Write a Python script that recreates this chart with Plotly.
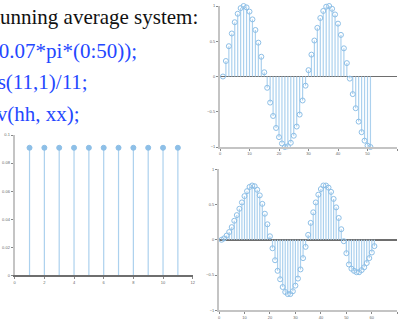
import plotly.graph_objects as go

W, H = 399, 321

# ---------------- data ----------------
text_lines = ["Running average system:",
              "xx = sin(0.07*pi*(0:50));",
              "hh = ones(11,1)/11;",
              "yy = conv(hh, xx);"]

hh_n = list(range(1, 12))
hh_vals = [0.0909] * 11

xx_n = list(range(1, 52))
xx_vals = [0.00, 0.22, 0.43, 0.61, 0.77, 0.89, 0.97, 1.00, 0.98, 0.92,
           0.81, 0.66, 0.48, 0.28, 0.06, -0.16, -0.37, -0.56, -0.73, -0.86,
           -0.95, -1.00, -0.99, -0.94, -0.84, -0.71, -0.54, -0.34, -0.13, 0.09,
           0.31, 0.51, 0.69, 0.83, 0.93, 0.99, 1.00, 0.96, 0.88, 0.75,
           0.59, 0.40, 0.19, -0.03, -0.25, -0.45, -0.64, -0.79, -0.91, -0.98,
           -1.00]

yy_n = list(range(1, 62))
yy_vals = [0.00, 0.02, 0.06, 0.11, 0.18, 0.27, 0.35, 0.44, 0.53, 0.62,
           0.69, 0.75, 0.77, 0.76, 0.71, 0.63, 0.51, 0.37, 0.22, 0.05,
           -0.12, -0.29, -0.44, -0.56, -0.67, -0.74, -0.77, -0.77, -0.73, -0.65,
           -0.55, -0.42, -0.26, -0.10, 0.07, 0.24, 0.39, 0.53, 0.64, 0.72,
           0.77, 0.77, 0.74, 0.68, 0.58, 0.46, 0.31, 0.15, -0.02, -0.19,
           -0.35, -0.41, -0.44, -0.46, -0.46, -0.43, -0.39, -0.33, -0.26, -0.18,
           -0.09]

hh_xticks = [0, 2, 4, 6, 8, 10, 12]
hh_yticks = [0, 0.02, 0.04, 0.06, 0.08, 0.1]
xx_xticks = [0, 10, 20, 30, 40, 50, 60]
yy_xticks = [0, 10, 20, 30, 40, 50, 60, 70]
pm_yticks = [-1, -0.5, 0, 0.5, 1]

# ---------------- style ----------------
STEM = "#acd1ee"
MARK = "#8dbfe7"
AXIS = "#c4c4c4"
BASE = "#6e6e6e"
TICKF = dict(family="Liberation Sans", size=4, color="#666666")
BLUE = "#2447ff"


def stems(n, v):
    xs, ys = [], []
    for a, b in zip(n, v):
        xs += [a, a, None]
        ys += [0, b, None]
    return xs, ys


fig = go.Figure()

for (n, v, ax, sym, msize) in [(hh_n, hh_vals, "", "circle", 5),
                                (xx_n, xx_vals, "2", "circle-open", 5),
                                (yy_n, yy_vals, "3", "circle-open", 5)]:
    sx, sy = stems(n, v)
    fig.add_trace(go.Scatter(x=sx, y=sy, mode="lines",
                             line=dict(color=STEM, width=1.2),
                             xaxis="x" + ax, yaxis="y" + ax,
                             hoverinfo="skip", showlegend=False,
                             cliponaxis=False))
    fig.add_trace(go.Scatter(x=n, y=v, mode="markers",
                             marker=dict(symbol=sym, size=msize, color=MARK,
                                         line=dict(color=MARK, width=1)),
                             xaxis="x" + ax, yaxis="y" + ax,
                             showlegend=False, cliponaxis=False))


def px_x(p):
    return p / W


def px_y(p):
    return 1 - p / H


common_x = dict(showgrid=False, zeroline=False, showline=True, linewidth=1.5,
                ticks="outside", ticklen=2, tickwidth=1, tickcolor="#888888",
                tickfont=TICKF, fixedrange=True, automargin=False)
common_y = dict(showgrid=False, showline=True, linewidth=2, linecolor=AXIS,
                ticks="outside", ticklen=2, tickwidth=1, tickcolor="#888888",
                tickfont=TICKF, fixedrange=True, automargin=False)

fig.update_layout(
    width=W, height=H,
    margin=dict(l=0, r=0, t=0, b=0, pad=0, autoexpand=False),
    paper_bgcolor="white", plot_bgcolor="white",
    showlegend=False,
    xaxis=dict(common_x, domain=[px_x(14.7), px_x(192.7)], range=[0, 12],
               tickvals=hh_xticks, linecolor=BASE, anchor="y"),
    yaxis=dict(common_y, domain=[px_y(275.3), px_y(135)], range=[0, 0.1],
               tickvals=hh_yticks, ticktext=[str(t) for t in hh_yticks],
               zeroline=False, anchor="x"),
    xaxis2=dict(common_x, domain=[px_x(220), px_x(397)], range=[0, 60],
                tickvals=xx_xticks, linecolor=AXIS, anchor="y2"),
    yaxis2=dict(common_y, domain=[px_y(147), px_y(6)], range=[-1, 1],
                tickvals=pm_yticks, zeroline=True, zerolinecolor=BASE,
                zerolinewidth=1.5, anchor="x2"),
    xaxis3=dict(common_x, domain=[px_x(219), px_x(397.3)], range=[0, 70],
                tickvals=yy_xticks, linecolor=AXIS, anchor="y3"),
    yaxis3=dict(common_y, domain=[px_y(310.3), px_y(169.3)], range=[-1, 1],
                tickvals=pm_yticks, zeroline=True, zerolinecolor=BASE,
                zerolinewidth=1.5, anchor="x3"),
)

# code text, partially cut at the left edge
rights = [200, 139, 90, 82]
mids = [17, 51.5, 82.5, 114]
colors = ["#111111", BLUE, BLUE, BLUE]
for t, r, m, c in zip(text_lines, rights, mids, colors):
    fig.add_annotation(text=t, x=px_x(r), y=px_y(m), xref="paper", yref="paper",
                       xanchor="right", yanchor="middle", showarrow=False,
                       font=dict(family="Liberation Serif", size=21, color=c))

# remove the page's default body margin so the figure sits at the window origin
fig.write_html("out.html",
               config={"displayModeBar": False, "staticPlot": True},
               post_script="document.body.style.margin='0';"
                           "document.body.style.overflow='hidden';")
